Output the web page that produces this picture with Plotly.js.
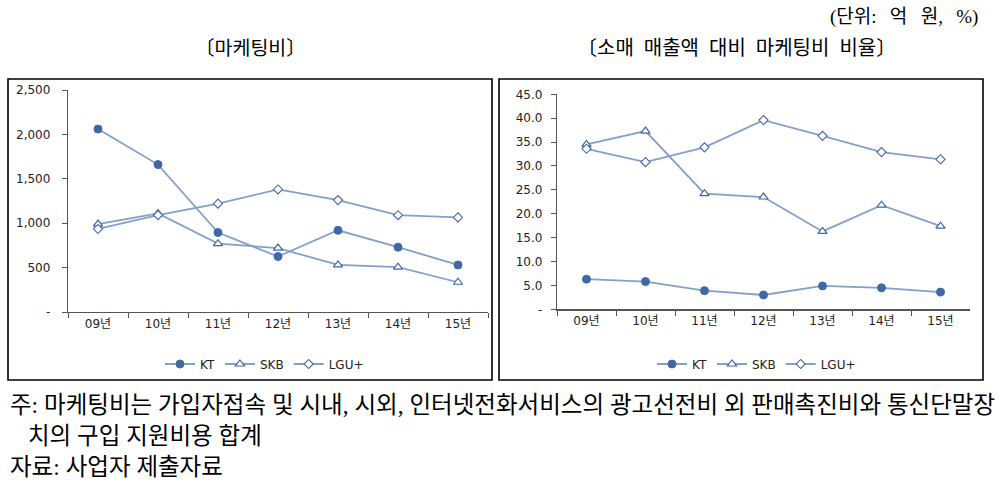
<!DOCTYPE html>
<html>
<head>
<meta charset="utf-8">
<script src="https://cdn.plot.ly/plotly-3.0.1.min.js"></script>
<style>html,body{margin:0;padding:0;background:#fff;}#chart{width:1000px;height:487px;}</style>
</head>
<body>
<div id="chart"></div>
<script>
const categories = ['09년','10년','11년','12년','13년','14년','15년'];
const seriesNames = ['KT','SKB','LGU+'];
// 마케팅비 (억 원)
const ktCost  = [2060, 1660, 895, 625, 920, 730, 530];
const skbCost = [990, 1110, 770, 720, 530, 505, 335];
const lguCost = [935, 1090, 1220, 1380, 1260, 1090, 1065];
// 소매 매출액 대비 마케팅비 비율 (%)
const ktRatio  = [6.3, 5.8, 3.9, 3.0, 4.9, 4.5, 3.6];
const skbRatio = [34.5, 37.3, 24.2, 23.5, 16.3, 21.8, 17.4];
const lguRatio = [33.6, 30.8, 33.9, 39.6, 36.3, 32.9, 31.4];
const costTicks = [0, 500, 1000, 1500, 2000, 2500];
const costTickText = ['-', '500', '1,000', '1,500', '2,000', '2,500'];
const ratioTicks = [0, 5, 10, 15, 20, 25, 30, 35, 40, 45];
const ratioTickText = ['-', '5.0', '10.0', '15.0', '20.0', '25.0', '30.0', '35.0', '40.0', '45.0'];

const lineColor = '#839fcb';
const markColor = '#3f68a6';
const sansFont = 'DejaVu Sans, Noto Sans CJK KR, sans-serif';
const serifFont = 'Liberation Serif, Noto Sans CJK KR, serif';

function styles(i){
  if(i===0) return {symbol:'circle', size:8, color:markColor, line:{color:markColor, width:1}};
  if(i===1) return {symbol:'triangle-up', size:8, color:'#ffffff', line:{color:markColor, width:1.2}};
  return {symbol:'diamond', size:7, color:'#ffffff', line:{color:markColor, width:1.1}};
}
const leftData = [ktCost, skbCost, lguCost];
const rightData = [ktRatio, skbRatio, lguRatio];
const traces = [];
leftData.forEach((d,i)=>traces.push({
  type:'scatter', mode:'lines+markers', x:categories, y:d, name:seriesNames[i],
  xaxis:'x', yaxis:'y', legend:'legend',
  line:{color:lineColor, width:1.8}, marker:styles(i), cliponaxis:false
}));
rightData.forEach((d,i)=>traces.push({
  type:'scatter', mode:'lines+markers', x:categories, y:d, name:seriesNames[i],
  xaxis:'x2', yaxis:'y2', legend:'legend2',
  line:{color:lineColor, width:1.8}, marker:styles(i), cliponaxis:false
}));

const H = 487, W = 1000;
const px = v => v / W;
const py = v => 1 - v / H;
const ES = '\u2002';
const WS = '\u2002\u2009';

const xBase = {type:'category', range:[-0.5,6.5], showline:true, linecolor:'#555', linewidth:1.2,
  ticks:'outside', ticklen:5, tickcolor:'#555', tickson:'boundaries', showgrid:false, zeroline:false,
  tickfont:{family:sansFont, size:12, color:'#222'}, fixedrange:true};
const yBase = {showline:true, linecolor:'#555', linewidth:1.2, ticks:'outside', ticklen:5, tickcolor:'#555',
  showgrid:false, zeroline:false, tickmode:'array', tickfont:{family:sansFont, size:12, color:'#222'}, fixedrange:true};

const layout = {
  width:W, height:H, margin:{l:0,r:0,t:0,b:0}, paper_bgcolor:'#fff', plot_bgcolor:'rgba(0,0,0,0)',
  showlegend:true,
  xaxis:Object.assign({}, xBase, {domain:[px(68), px(488)], anchor:'y'}),
  yaxis:Object.assign({}, yBase, {domain:[py(312), py(90)], range:[0,2500], tickvals:costTicks, ticktext:costTickText, anchor:'x', ticklabelstandoff:9}),
  xaxis2:Object.assign({}, xBase, {domain:[px(557), px(970)], anchor:'y2'}),
  yaxis2:Object.assign({}, yBase, {domain:[py(309.3), py(94.3)], range:[0,45], tickvals:ratioTicks, ticktext:ratioTickText, anchor:'x2', ticklabelstandoff:6}),
  legend:{orientation:'h', x:px(160), y:py(364), xanchor:'left', yanchor:'middle', font:{family:sansFont, size:12, color:'#222'}, bgcolor:'rgba(0,0,0,0)', itemwidth:30, tracegroupgap:0},
  legend2:{orientation:'h', x:px(652), y:py(364), xanchor:'left', yanchor:'middle', font:{family:sansFont, size:12, color:'#222'}, bgcolor:'rgba(0,0,0,0)', itemwidth:30, tracegroupgap:0},
  shapes:[
    {type:'rect', xref:'paper', yref:'paper', x0:px(8), x1:px(492), y0:py(380), y1:py(79), line:{color:'#000', width:1.6}},
    {type:'rect', xref:'paper', yref:'paper', x0:px(499), x1:px(983), y0:py(380), y1:py(79), line:{color:'#000', width:1.6}}
  ],
  annotations:[
    {xref:'paper', yref:'paper', x:px(980), y:py(17), xanchor:'right', yanchor:'middle', showarrow:false,
     text:'(단위:'+WS+'억'+WS+'원,'+WS+'%)', font:{family:serifFont, size:19, color:'#000'}},
    {xref:'paper', yref:'paper', x:px(250), y:py(48), xanchor:'center', yanchor:'middle', showarrow:false,
     text:'〔마케팅비〕', font:{family:serifFont, size:19.5, color:'#000'}},
    {xref:'paper', yref:'paper', x:px(736), y:py(48), xanchor:'center', yanchor:'middle', showarrow:false,
     text:'〔소매'+ES+'매출액'+ES+'대비'+ES+'마케팅비'+ES+'비율〕', font:{family:serifFont, size:20, color:'#000'}},
    {xref:'paper', yref:'paper', x:px(8), y:py(405), xanchor:'left', yanchor:'middle', showarrow:false,
     text:'주: 마케팅비는 가입자접속 및 시내, 시외, 인터넷전화서비스의 광고선전비 외 판매촉진비와 통신단말장', font:{family:serifFont, size:23.5, color:'#000'}},
    {xref:'paper', yref:'paper', x:px(26), y:py(436), xanchor:'left', yanchor:'middle', showarrow:false,
     text:'치의 구입 지원비용 합계', font:{family:serifFont, size:23.5, color:'#000'}},
    {xref:'paper', yref:'paper', x:px(8), y:py(467), xanchor:'left', yanchor:'middle', showarrow:false,
     text:'자료: 사업자 제출자료', font:{family:serifFont, size:23.5, color:'#000'}}
  ]
};
Plotly.newPlot('chart', traces, layout, {staticPlot:true, displayModeBar:false});
</script>
</body>
</html>
